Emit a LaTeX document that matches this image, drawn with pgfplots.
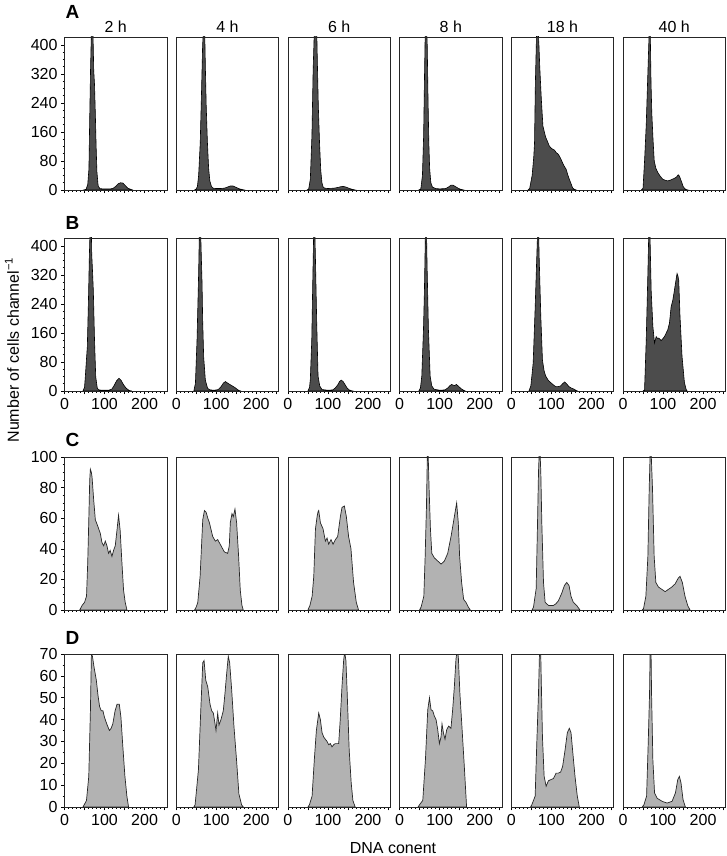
\documentclass[border=0pt]{standalone}
\usepackage{fontspec}
\setmainfont{Liberation Sans}
\usepackage{pgfplots}
\pgfplotsset{compat=1.18}
\newcommand{\lbl}{\fontsize{16}{18}\selectfont}
\pgfplotsset{
  panel/.style={
    scale only axis, width=102.5pt, height=153pt, anchor=south west,
    xmin=0, xmax=256, ymin=0, axis on top,
    axis line style={black!85, line width=0.8pt},
    xtick={0,50,100,150,200,250}, minor x tick num=4,
    tick align=outside, major tick length=3.5pt, minor tick length=2pt,
    tick style={black, line width=0.5pt},
    xtick pos=bottom, ytick pos=left,
    /pgf/number format/assume math mode=true,
    tick label style={font=\lbl},
    xticklabels={,,,,,},
    ytick=\empty,
  },
  xlab/.style={xticklabels={0,,100,,200,}},
  rowAB/.style={ymax=422},
  rowC/.style={ymax=100},
  rowD/.style={ymax=70},
  yAB/.style={ytick={0,80,160,240,320,400}, minor y tick num=3},
  yC/.style={ytick={0,20,40,60,80,100}, minor y tick num=3},
  yD/.style={ytick={0,10,20,30,40,50,60,70}, minor y tick num=1},
  hd/.style={draw=black, line width=0.6pt, fill=black!70},
  hl/.style={draw=black!85, line width=0.7pt, fill=black!30},
}
\begin{document}
\begin{tikzpicture}[x=1pt,y=1pt]
\path[use as bounding box] (0,0) rectangle (727,856);
% ---------------- Row A ----------------
\begin{axis}[panel, rowAB, yAB, at={(64.5pt,666pt)}]
\addplot[hd] coordinates {(48,0)(54,2)(58,15)(61,58)(63,200)(65,330)(67,430)(69,470)(71,440)(73,330)(75,290)(77,210)(79,120)(81,50)(84,12)(88,4)(95,3)(105,3)(115,3)(122,5)(128,10)(134,17)(140,20)(146,19)(152,12)(158,5)(165,2)(170,0)} \closedcycle;
\end{axis}
\begin{axis}[panel, rowAB, at={(176.2pt,666pt)}]
\addplot[hd] coordinates {(46,0)(50,3)(53,10)(56,40)(60,130)(63,260)(66,400)(69,460)(71,450)(73,330)(75,230)(78,130)(81,60)(84,25)(88,10)(92,5)(100,4)(110,4)(120,5)(128,8)(135,11)(142,11)(150,7)(158,3)(166,1)(170,0)} \closedcycle;
\end{axis}
\begin{axis}[panel, rowAB, at={(287.9pt,666pt)}]
\addplot[hd] coordinates {(48,0)(52,3)(56,30)(60,150)(63,330)(66,440)(70,460)(72,440)(74,330)(76,230)(79,130)(82,55)(85,20)(88,8)(92,5)(100,4)(115,5)(125,7)(132,9)(138,10)(145,8)(152,5)(160,2)(168,0)} \closedcycle;
\end{axis}
\begin{axis}[panel, rowAB, at={(399.6pt,666pt)}]
\addplot[hd] coordinates {(48,0)(53,3)(57,40)(60,150)(62,300)(64,440)(67,460)(69,400)(71,250)(73,130)(75,60)(78,20)(82,8)(90,4)(100,3)(115,4)(122,8)(128,13)(134,13)(140,9)(146,5)(152,2)(160,0)} \closedcycle;
\end{axis}
\begin{axis}[panel, rowAB, at={(511.3pt,666pt)}]
\addplot[hd] coordinates {(42,0)(46,5)(52,40)(56,90)(58,130)(60,290)(63,430)(66,460)(69,400)(71,341)(75,250)(79,176)(83,158)(86,145)(90,135)(95,121)(100,115)(104,112)(108,110)(112,103)(116,100)(120,94)(124,85)(128,75)(132,66)(137,57)(141,42)(145,29)(149,18)(153,6)(157,2)(162,0)} \closedcycle;
\end{axis}
\begin{axis}[panel, rowAB, at={(623pt,666pt)}]
\addplot[hd] coordinates {(46,0)(50,5)(54,84)(58,180)(60,250)(64,390)(66,460)(68,440)(70,295)(72,210)(75,139)(78,80)(82,60)(87,48)(93,38)(99,30)(105,27)(112,25)(120,28)(126,31)(133,35)(138,42)(141,38)(144,29)(147,20)(150,10)(154,4)(158,1)(162,0)} \closedcycle;
\end{axis}
% ---------------- Row B ----------------
\begin{axis}[panel, rowAB, yAB, xlab, at={(64.5pt,465pt)}]
\addplot[hd] coordinates {(46,0)(50,10)(52,39)(55,90)(57,122)(60,259)(62,369)(64,450)(67,450)(68,378)(70,330)(72,277)(75,140)(78,39)(82,7)(86,3)(95,2)(110,2)(118,5)(124,15)(130,28)(136,35)(141,30)(147,18)(153,9)(158,4)(163,1)(168,0)} \closedcycle;
\end{axis}
\begin{axis}[panel, rowAB, xlab, at={(176.2pt,465pt)}]
\addplot[hd] coordinates {(44,0)(48,21)(52,140)(56,323)(58,450)(61,450)(62,400)(64.6,296)(66,200)(68.6,94)(72.8,30)(78.5,7)(85,3)(95,2)(105,4)(112,12)(118,22)(123,26)(128,22)(134,18)(140,14)(146,10)(152,5)(157,1)(162,0)} \closedcycle;
\end{axis}
\begin{axis}[panel, rowAB, xlab, at={(287.9pt,465pt)}]
\addplot[hd] coordinates {(50,0)(54,10)(56,32)(59.6,141)(62,296)(64.6,450)(67,450)(68.7,369)(72,187)(75.3,41)(79.5,14)(85,4)(100,2)(112,3)(118,8)(124,16)(129,26)(133,30)(138,26)(143,17)(148,8)(153,3)(158,1)(162,0)} \closedcycle;
\end{axis}
\begin{axis}[panel, rowAB, xlab, at={(399.6pt,465pt)}]
\addplot[hd] coordinates {(48,0)(52,8)(55.4,41)(59.6,169)(62,278)(64.6,450)(67,450)(68.7,342)(72,169)(76.3,41)(80.4,14)(86,5)(100,2)(113,3)(120,8)(126,15)(130,18)(134,16)(137,15)(142,18)(148,12)(154,6)(160,2)(164,0)} \closedcycle;
\end{axis}
\begin{axis}[panel, rowAB, xlab, at={(511.3pt,465pt)}]
\addplot[hd] coordinates {(44,0)(48.8,14)(54.6,77)(59.6,231)(63.6,369)(66,450)(68,450)(69.6,369)(73.7,205)(77.8,85)(82,55)(86,41)(92,30)(98.5,23)(105,17)(110.9,12)(117,12)(123.3,14)(128,20)(133.3,25)(138,20)(144,12)(150,8)(156.6,5)(161,2)(165,0)} \closedcycle;
\end{axis}
\begin{axis}[panel, rowAB, xlab, at={(623pt,465pt)}]
\addplot[hd] coordinates {(50,0)(53.8,3)(58,141)(62.1,324)(64.6,450)(67,450)(70.4,276)(74.6,178)(78.7,132)(82.8,150)(86,145)(89.5,146)(95.3,139)(100,145)(103.6,150)(108,160)(111.8,169)(116,187)(120.1,232)(124.3,250)(128,275)(130.9,296)(135,324)(137,318)(139.2,305)(142.4,205)(147.4,96)(153.4,23)(157.5,5)(160,0)} \closedcycle;
\end{axis}
% ---------------- Row C ----------------
\begin{axis}[panel, rowC, yC, at={(64.5pt,246pt)}]
\addplot[hl] coordinates {(38,0)(44,3)(50,5)(55,9)(58,31)(60.5,57)(63,85)(64.6,92)(67,90)(68.8,87)(72.9,72)(77,59)(82.8,55)(89.5,50)(93.6,44)(97.8,42)(101.9,45)(106,42)(110,37)(114,39)(118.5,35)(122.6,39)(126.8,42)(131,52)(135,62)(139,52)(143.4,31)(147.5,13)(151.6,5)(156,0)} \closedcycle;
\end{axis}
\begin{axis}[panel, rowC, at={(176.2pt,246pt)}]
\addplot[hl] coordinates {(46,0)(50,2)(53.9,5)(59.7,22)(66.3,59)(70.5,65)(74.6,64)(79,60)(83,57)(91.2,48)(97.8,45)(103.6,46)(111.9,42)(120.2,38)(128.5,37)(132.6,42)(135.1,57)(139.3,63)(142.6,61)(146.8,66)(150.9,57)(155.9,35)(160,13)(164.2,3)(167.5,0)} \closedcycle;
\end{axis}
\begin{axis}[panel, rowC, at={(287.9pt,246pt)}]
\addplot[hl] coordinates {(50,0)(55,3)(60.5,9)(64.6,22)(68.8,53)(72.9,61)(75,64)(77,65)(81.2,57)(87.8,53)(93.6,45)(97.8,47)(101.9,43)(107.7,46)(112.7,43)(118.5,46)(124.3,48)(131,61)(135.1,67)(141,68)(146,61)(151.6,48)(157.5,40)(164,18)(170.8,5)(176.5,0)} \closedcycle;
\end{axis}
\begin{axis}[panel, rowC, at={(399.6pt,246pt)}]
\addplot[hl] coordinates {(50,0)(53.8,2)(60.5,9)(63.8,35)(67.1,68)(69.5,105)(71,105)(73.7,79)(77,53)(80.4,37)(87,34)(95.3,32)(103.6,30)(111.8,32)(120.1,37)(128.4,48)(136.7,61)(142.5,70)(146.6,57)(149.9,35)(154.9,18)(159.9,7)(165.7,5)(171.5,2)(176.5,0)} \closedcycle;
\end{axis}
\begin{axis}[panel, rowC, at={(511.3pt,246pt)}]
\addplot[hl] coordinates {(52,0)(55.5,2)(62.1,14)(65.5,57)(67.9,90)(70,105)(71.5,105)(73.7,90)(76.2,57)(80.4,18)(84.5,5)(92.8,3)(105.2,3)(111,4)(117.6,6)(126,11)(132.6,16)(138.4,18)(144.2,16)(149.1,9)(154.9,5)(163.2,3)(171.5,0)} \closedcycle;
\end{axis}
\begin{axis}[panel, rowC, at={(623pt,246pt)}]
\addplot[hl] coordinates {(48,0)(51.3,1)(57.1,9)(62.1,35)(65.4,79)(68,105)(70,105)(73.7,79)(77.8,35)(82,18)(88.6,15)(96.9,13.5)(105.2,12)(113.5,13.5)(121.8,15)(130,17)(138.3,21)(142.4,22)(148.2,18)(154.8,9)(161.5,3)(167.3,0)} \closedcycle;
\end{axis}
% ---------------- Row D ----------------
\begin{axis}[panel, rowD, yD, xlab, at={(64.5pt,49pt)}]
\addplot[hl] coordinates {(46,0)(49.2,1)(54.9,3)(60.6,14)(64.7,44)(67.2,70)(69.7,69)(73.8,64)(79.5,58)(83.7,51)(87.6,46)(91.8,44)(96,44)(99.9,41)(106.6,37.5)(112.2,35)(116.4,36)(120.6,38)(126.3,44)(131.2,47)(136.9,47)(141,41)(145.2,29)(150.9,14)(155.8,5)(160,0)} \closedcycle;
\end{axis}
\begin{axis}[panel, rowD, xlab, at={(176.2pt,49pt)}]
\addplot[hl] coordinates {(44,0)(47.2,1)(55.5,17)(61.3,44)(66.3,66)(69.6,67)(73.8,58)(78.8,55)(84.5,47)(88.7,44)(92.8,43)(97,38)(99.4,35)(103.6,43)(106.9,37.5)(111.8,40)(117.6,44)(121.8,52)(126,61)(130.1,69)(133.5,66)(138.4,54)(144.2,37)(150.9,21)(156.6,6)(163.3,1)(167.5,0)} \closedcycle;
\end{axis}
\begin{axis}[panel, rowD, xlab, at={(287.9pt,49pt)}]
\addplot[hl] coordinates {(50,0)(53.7,1)(60.4,5)(66.1,22)(71.1,35)(77,43)(81.1,40)(85.3,34)(89.5,32)(93.5,31)(97.7,30)(101.9,28.5)(105.9,29)(110.1,27.5)(114.3,28.5)(118.3,29)(122.5,29)(126.8,29)(130.7,40)(135,55)(139.2,67)(141.7,71)(144.9,67)(148.1,52)(153.1,26)(158.1,11)(162.3,3)(168,0)} \closedcycle;
\end{axis}
\begin{axis}[panel, rowD, xlab, at={(399.6pt,49pt)}]
\addplot[hl] coordinates {(46,0)(49.7,1)(57.9,3)(64.6,22)(70.3,44.5)(74.6,50)(78.5,44.5)(82.7,44)(87,41.5)(91,40)(95.2,35.4)(99.4,29)(103.4,32)(105.9,38)(109.4,34)(113.4,31)(117.6,35.4)(122.5,37)(128.2,36)(132.5,44.5)(136.7,55)(140.7,67.5)(143.2,71)(146.6,69)(150.6,52)(155.6,37)(161.6,18.6)(167.3,0)} \closedcycle;
\end{axis}
\begin{axis}[panel, rowD, xlab, at={(511.3pt,49pt)}]
\addplot[hl] coordinates {(48,0)(51.2,1)(59.6,5)(63.6,29)(67.9,52)(71,75)(73,75)(74.6,60)(77.8,32)(82,14)(87,9.5)(92.7,12)(98.4,12.5)(105.1,13)(111.8,15.5)(117.6,15.5)(123.3,16)(128.2,18.6)(134.2,26)(139.9,34)(144.9,36)(149.1,34)(153.1,26)(159.1,14)(164.8,5)(169.8,0)} \closedcycle;
\end{axis}
\begin{axis}[panel, rowD, xlab, at={(623pt,49pt)}]
\addplot[hl] coordinates {(48,0)(52.2,1)(58.9,5)(62.9,29)(66.3,52)(68,75)(69.8,75)(71.3,52)(74.6,21.5)(78.8,6.4)(85.3,4)(97.7,2.6)(110.1,1.8)(122.5,2.6)(130.9,6.4)(136.7,12.5)(140.8,14)(144.9,11)(149.9,3.4)(155.8,0)} \closedcycle;
\end{axis}
% ---------------- Labels ----------------
\foreach \cx/\t in {115.75/2 h,227.45/4 h,339.15/6 h,450.85/8 h,562.55/18 h,674.25/40 h}
  \node[font=\lbl] at (\cx,829) {\t};
\node[anchor=west, font=\fontsize{19}{21}\selectfont\bfseries] at (62,844) {A};
\node[anchor=west, font=\fontsize{19}{21}\selectfont\bfseries] at (62,633) {B};
\node[anchor=west, font=\fontsize{19}{21}\selectfont\bfseries] at (62,416) {C};
\node[anchor=west, font=\fontsize{19}{21}\selectfont\bfseries] at (62,218) {D};
\node[font=\lbl] at (393,8) {DNA conent};
\node[font=\lbl, rotate=90] at (12,506) {Number of cells channel\textsuperscript{−1}};
\end{tikzpicture}
\end{document}
